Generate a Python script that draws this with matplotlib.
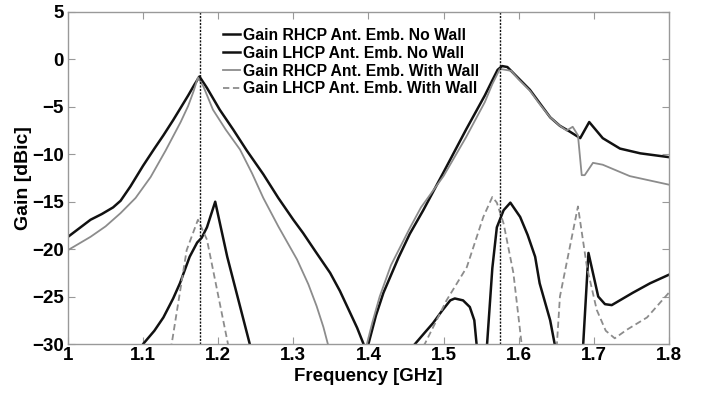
import matplotlib
matplotlib.use("Agg")
import matplotlib.pyplot as plt
import numpy as np

plt.rcParams['font.family'] = ['Liberation Sans', 'DejaVu Sans']
plt.rcParams['font.weight'] = 'bold'

# RHCP, no wall
f_rn = [1.0, 1.015, 1.03, 1.045, 1.06, 1.07, 1.083, 1.10, 1.115, 1.127, 1.14,
        1.15, 1.16, 1.168, 1.175, 1.185, 1.202, 1.22, 1.238, 1.26, 1.28, 1.30,
        1.313, 1.33, 1.349, 1.362, 1.375, 1.385, 1.393, 1.398, 1.40, 1.41,
        1.42, 1.44, 1.455, 1.473, 1.50, 1.53, 1.555, 1.565, 1.572, 1.578,
        1.585, 1.60, 1.615, 1.628, 1.642, 1.655, 1.668, 1.682, 1.694, 1.712,
        1.735, 1.762, 1.8]
g_rn = [-18.7, -17.8, -16.9, -16.3, -15.6, -14.9, -13.4, -11.2, -9.4, -8.0, -6.4,
        -5.1, -3.8, -2.7, -1.8, -3.0, -5.3, -7.4, -9.6, -12.1, -14.6, -16.9,
        -18.3, -20.3, -22.5, -24.4, -26.6, -28.3, -29.9, -31.0, -30.0, -27.0,
        -24.6, -20.9, -18.4, -15.9, -11.9, -7.4, -3.8, -2.2, -1.1, -0.7,
        -0.8, -2.0, -3.2, -4.6, -6.1, -7.0, -7.6, -8.3, -6.6, -8.3,
        -9.4, -9.9, -10.3]

# RHCP, with wall
f_rw = [1.0, 1.015, 1.03, 1.05, 1.07, 1.09, 1.11, 1.13, 1.15, 1.16, 1.167, 1.173,
        1.18, 1.193, 1.21, 1.229, 1.245, 1.26, 1.28, 1.305, 1.32, 1.331, 1.34,
        1.346, 1.37, 1.398, 1.405, 1.415, 1.43, 1.455, 1.47, 1.50, 1.53, 1.555,
        1.565, 1.575, 1.59, 1.60, 1.615, 1.628, 1.642, 1.655, 1.664, 1.672,
        1.679, 1.684, 1.688, 1.699, 1.712, 1.748, 1.8]
g_rw = [-20.1, -19.4, -18.7, -17.6, -16.2, -14.6, -12.4, -9.6, -6.6, -4.9, -3.4, -1.9,
        -2.8, -5.3, -7.4, -9.5, -12.0, -14.6, -17.6, -21.1, -23.7, -26.0, -28.2,
        -30.0, -45.0, -30.0, -27.8, -25.0, -21.7, -17.8, -15.6, -12.3, -8.2, -4.5,
        -2.6, -1.0, -1.2, -2.1, -3.3, -4.7, -6.1, -7.0, -7.5, -7.1,
        -8.0, -12.2, -12.2, -10.9, -11.1, -12.3, -13.2]

# LHCP, no wall
f_ln = [1.0, 1.1, 1.115, 1.127, 1.14, 1.149, 1.162, 1.172, 1.178, 1.185, 1.196,
        1.212, 1.242, 1.30, 1.462, 1.475, 1.486, 1.498, 1.509, 1.515, 1.526,
        1.535, 1.541, 1.544, 1.551, 1.558, 1.565, 1.571, 1.580, 1.589, 1.602,
        1.612, 1.622, 1.628, 1.642, 1.648, 1.667, 1.686, 1.693, 1.706, 1.715,
        1.724, 1.752, 1.775, 1.8]
g_ln = [-45.0, -30.0, -28.6, -27.2, -25.2, -23.6, -20.8, -19.3, -18.8, -17.7, -15.0,
        -20.8, -30.0, -45.0, -30.0, -28.8, -27.8, -26.5, -25.4, -25.2, -25.4,
        -26.1, -27.5, -30.0, -45.0, -30.0, -22.0, -17.7, -15.9, -15.1, -16.6,
        -18.5, -20.8, -23.6, -27.5, -30.0, -45.0, -30.0, -20.4, -25.0, -25.8,
        -25.9, -24.6, -23.6, -22.7]

# LHCP, with wall
f_lw = [1.0, 1.138, 1.158, 1.173, 1.185, 1.213, 1.30, 1.475, 1.504, 1.531,
        1.553, 1.565, 1.571, 1.580, 1.593, 1.604, 1.628, 1.651, 1.655, 1.679,
        1.691, 1.704, 1.716, 1.728, 1.744, 1.771, 1.8]
g_lw = [-45.0, -30.0, -20.1, -16.9, -19.0, -30.0, -45.0, -30.0, -25.4, -21.9,
        -16.6, -14.5, -15.1, -17.3, -22.5, -30.0, -45.0, -30.0, -25.0, -15.5,
        -21.9, -26.4, -28.6, -29.4, -28.5, -27.2, -24.6]

f_marks = [1.176, 1.575]
labels = ['Gain RHCP Ant. Emb. No Wall', 'Gain LHCP Ant. Emb. No Wall',
          'Gain RHCP Ant. Emb. With Wall', 'Gain LHCP Ant. Emb. With Wall']

fig = plt.figure(figsize=(7.07, 3.96), dpi=100)
ax = fig.add_axes([0.0962, 0.1313, 0.8498, 0.8384])

ax.plot(f_rn, g_rn, color='#111111', lw=1.8, label=labels[0])
ax.plot(f_ln, g_ln, color='#111111', lw=1.8, label=labels[1])
ax.plot(f_rw, g_rw, color='#8c8c8c', lw=1.3, label=labels[2])
ax.plot(f_lw, g_lw, color='#8c8c8c', lw=1.3, ls=(0, (3.5, 2)), label=labels[3])
for fm in f_marks:
    ax.axvline(fm, color='#111111', lw=1.0, ls=(0, (1.5, 1)))

ax.set_xlim(1.0, 1.8)
ax.set_ylim(-30, 5)
ax.set_xticks(np.arange(1.0, 1.81, 0.1))
ax.set_xticklabels(['1', '1.1', '1.2', '1.3', '1.4', '1.5', '1.6', '1.7', '1.8'])
ax.set_yticks(np.arange(-30, 6, 5))
ax.tick_params(direction='in', top=True, right=True, length=5, color='#999999',
               labelsize=13.5, pad=2)
ax.tick_params(axis='y', pad=3)
for s in ax.spines.values():
    s.set_color('#999999')
    s.set_linewidth(1.0)

ax.set_xlabel('Frequency [GHz]', fontsize=13.4, fontweight='bold', labelpad=3)
ax.set_ylabel('Gain [dBic]', fontsize=14, fontweight='bold', labelpad=0)

ax.legend(loc='upper left', bbox_to_anchor=(0.24, 0.985), frameon=False,
          handlelength=1.1, handletextpad=0.15, labelspacing=0.18,
          borderaxespad=0.3, prop={'weight': 'bold', 'size': 11.3})

fig.savefig('out.png', dpi=100)
